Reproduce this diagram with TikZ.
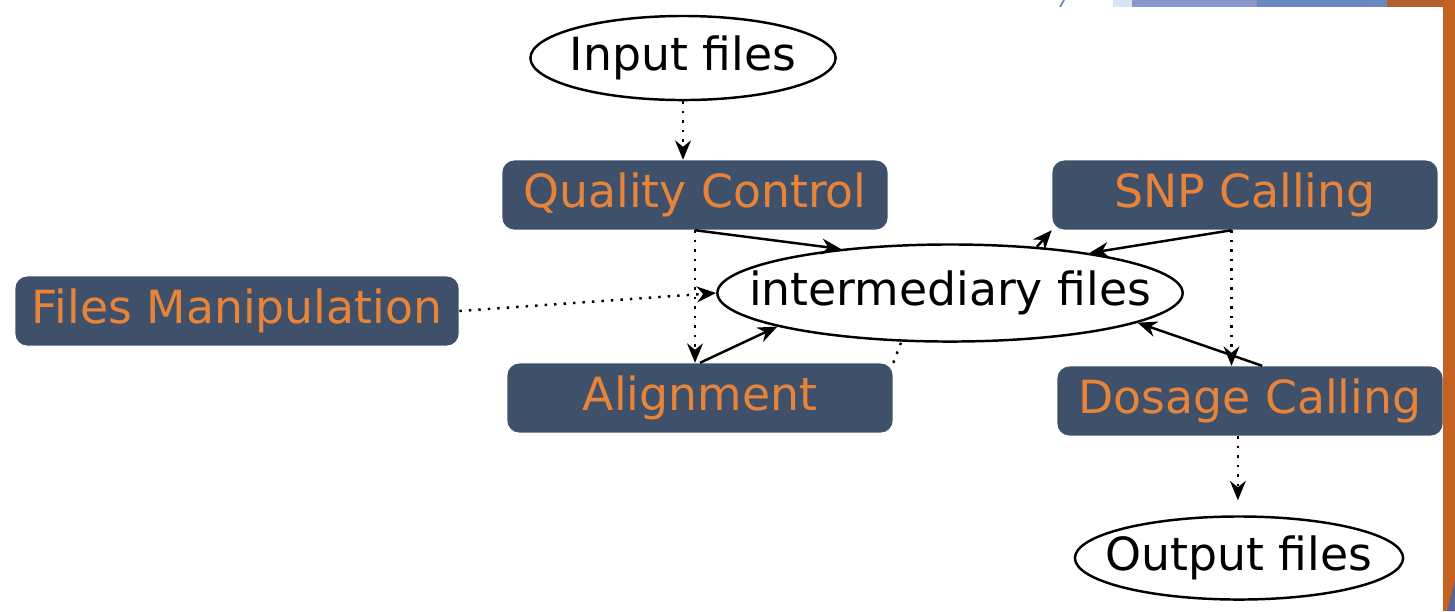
\documentclass[tikz,border=0pt]{standalone}
\usepackage{fontspec}
\setmainfont{DejaVu Sans}
\usetikzlibrary{shapes.geometric,arrows.meta}
\definecolor{boxblue}{RGB}{63,81,106}
\definecolor{boxtext}{RGB}{232,132,58}
\definecolor{slideorange}{RGB}{197,98,32}
\definecolor{slidebrown}{RGB}{176,96,47}
\definecolor{slideblue}{RGB}{106,136,191}
\definecolor{slidemid}{RGB}{135,151,199}
\definecolor{slidelight}{RGB}{218,227,243}
\definecolor{slidepurple}{RGB}{93,100,149}
\tikzset{
  task/.style={shape=rectangle, rounded corners=0.12cm, fill=boxblue, text=boxtext,
    minimum width=3.85cm, minimum height=0.69cm, font=\fontsize{13}{16}\selectfont},
  data/.style={shape=ellipse, draw=black, line width=0.7pt, inner sep=0pt,
    font=\fontsize{13}{16}\selectfont},
  flow/.style={line width=0.7pt, -{Stealth[length=5.5pt,width=4.5pt]}},
  dots/.style={flow, dotted},
}
\begin{document}
\begin{tikzpicture}[x=0.01cm,y=-0.01cm]
\useasboundingbox (0,0) rectangle (1455,611);

% slide frame pieces
\fill[slidelight] (1113,0) rectangle (1132,7);
\fill[slidemid] (1132,0) rectangle (1257,7);
\fill[slideblue] (1257,0) rectangle (1387,7);
\fill[slidebrown] (1387,0) rectangle (1455,7);
\fill[slideorange] (1443,0) rectangle (1455,611);
\fill[slidepurple] (1455,580) -- (1447,611) -- (1455,611) -- cycle;
\draw[slideblue, line width=0.5pt] (1060,7) -- (1064,0);

% nodes
\node[data, minimum width=3.05cm, minimum height=0.84cm] (input) at (683,58) {\makebox[0pt]{Input files}};
\node[task] (qc) at (695,195) {Quality Control};
\node[task] (snp) at (1245,195) {SNP Calling};
\node[task, minimum width=4.43cm] (fm) at (237,311) {Files Manipulation};
\node[data, minimum width=4.65cm, minimum height=0.97cm] (inter) at (950,293) {\makebox[0pt]{intermediary files}};
\node[task] (al) at (700,398) {Alignment};
\node[task] (ds) at (1250,401) {Dosage Calling};
\node[data, minimum width=3.28cm, minimum height=0.83cm] (out) at (1239,558) {\makebox[0pt]{Output files}};

% connectors
\path[dots] (input.south) edge (input.south |- qc.north);
\path[flow] (qc.south) edge (inter.158);
\path[dots] (qc.south) edge (qc.south |- al.north);
\path[dots] (fm.east) edge (inter.west);
\path[flow] (al.north) edge (inter.191);
\path[dotted, line width=0.7pt] (al.north east) edge (inter.225);
\path[flow] (inter.28) edge (snp.south west);
\path[flow] (snp.-111) edge (inter.16);
\path[dots] (snp.-111) edge (snp.-111 |- ds.north);
\path[flow] (ds.71) edge (inter.-9);
\path[dots, shorten >=0.15cm] (ds.-109) edge (ds.-109 |- out.north);

\end{tikzpicture}
\end{document}
